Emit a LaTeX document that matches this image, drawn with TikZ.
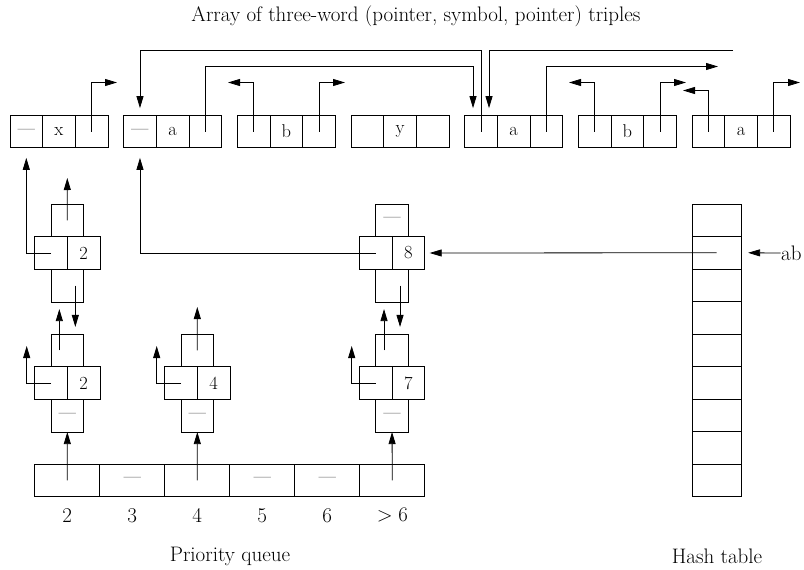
\documentclass[tikz,border=0pt]{standalone}
\usetikzlibrary{positioning,arrows.meta}
\begin{document}
\begin{tikzpicture}[x=1pt,y=-1pt,
    word/.style ={draw, thick, minimum width=32.66pt, minimum height=32.7pt,
      inner sep=0pt, outer sep=0pt, font=\fontsize{18.5}{21}\selectfont},
    bucket/.style ={draw, thick, minimum width=65pt, minimum height=32.7pt,
      inner sep=0pt, outer sep=0pt, font=\fontsize{18.5}{21}\selectfont},
    slot/.style ={draw, thick, minimum width=48.7pt, minimum height=32.5pt,
      inner sep=0pt, outer sep=0pt},
    caption/.style ={font=\fontsize{21}{24}\selectfont},
    pointer/.style ={thick, -{Triangle[length=12pt,width=7pt]}}]
   \useasboundingbox (0,0) rectangle (804,570);
   \node[caption] (title) at (416,16) {Array of three-word (pointer, symbol, pointer) triples};
   \node[word] (t0l) at (26.3,131.5) {\textemdash};
   \node[word, right=0pt of t0l] (t0m) {x};
   \node[word, right=0pt of t0m] (t0r) {};
   \node[word, right=15.7pt of t0r] (t1l) {\textemdash};
   \node[word, right=0pt of t1l] (t1m) {a};
   \node[word, right=0pt of t1m] (t1r) {};
   \node[word, right=15.7pt of t1r] (t2l) {};
   \node[word, right=0pt of t2l] (t2m) {b};
   \node[word, right=0pt of t2m] (t2r) {};
   \node[word, right=15.7pt of t2r] (t3l) {};
   \node[word, right=0pt of t3l] (t3m) {y};
   \node[word, right=0pt of t3m] (t3r) {};
   \node[word, right=15.7pt of t3r] (t4l) {};
   \node[word, right=0pt of t4l] (t4m) {a};
   \node[word, right=0pt of t4m] (t4r) {};
   \node[word, right=15.7pt of t4r] (t5l) {};
   \node[word, right=0pt of t5l] (t5m) {b};
   \node[word, right=0pt of t5m] (t5r) {};
   \node[word, right=15.7pt of t5r] (t6l) {};
   \node[word, right=0pt of t6l] (t6m) {a};
   \node[word, right=0pt of t6m] (t6r) {};

   \node[word] (Al) at (51,253) {};
   \node[word, right=0pt of Al] (Ar) {2};
   \node[word, above=0pt of Al.north east] (At) {};
   \node[word, below=0pt of Al.south east] (Ab) {};
   \node[word] (Bl) at (51,383) {};
   \node[word, right=0pt of Bl] (Br) {2};
   \node[word, above=0pt of Bl.north east] (Bt) {};
   \node[word, below=0pt of Bl.south east] (Bb) {\textemdash};
   \node[word] (Cl) at (181,383) {};
   \node[word, right=0pt of Cl] (Cr) {4};
   \node[word, above=0pt of Cl.north east] (Ct) {};
   \node[word, below=0pt of Cl.south east] (Cb) {\textemdash};
   \node[word] (Dl) at (375.7,253) {};
   \node[word, right=0pt of Dl] (Dr) {8};
   \node[word, above=0pt of Dl.north east] (Dt) {\textemdash};
   \node[word, below=0pt of Dl.south east] (Db) {};
   \node[word] (El) at (375.7,383) {};
   \node[word, right=0pt of El] (Er) {7};
   \node[word, above=0pt of El.north east] (Et) {};
   \node[word, below=0pt of El.south east] (Eb) {\textemdash};

   \node[bucket] (q2) at (67.3,480.3) {};
   \node[bucket, right=0pt of q2] (q3) {\textemdash};
   \node[bucket, right=0pt of q3] (q4) {};
   \node[bucket, right=0pt of q4] (q5) {\textemdash};
   \node[bucket, right=0pt of q5] (q6) {\textemdash};
   \node[bucket, right=0pt of q6] (qg) {};
   \node[caption] (l2) at ([yshift=-35pt]q2.center) {2};
   \node[caption] (l3) at ([yshift=-35pt]q3.center) {3};
   \node[caption] (l4) at ([yshift=-35pt]q4.center) {4};
   \node[caption] (l5) at ([yshift=-35pt]q5.center) {5};
   \node[caption] (l6) at ([yshift=-35pt]q6.center) {6};
   \node[caption] (lg) at ([yshift=-35pt]qg.center) {$>6$};
   \node[caption] (pq) at (230,556) {Priority queue};

   \node[slot] (h1) at (716.7,220.25) {};
   \node[slot, below=0pt of h1] (h2) {};
   \node[slot, below=0pt of h2] (h3) {};
   \node[slot, below=0pt of h3] (h4) {};
   \node[slot, below=0pt of h4] (h5) {};
   \node[slot, below=0pt of h5] (h6) {};
   \node[slot, below=0pt of h6] (h7) {};
   \node[slot, below=0pt of h7] (h8) {};
   \node[slot, below=0pt of h8] (h9) {};
   \node[caption] (ht) at (717,556) {Hash table};
   \node[caption, anchor=west, inner sep=0.5pt] (ab) at (780.5,253) {ab};

   \coordinate (t0rEnd) at (117,82.5);
   \coordinate (t2lEnd) at (228,82.5);
   \coordinate (t2rEnd) at (345,82.5);
   \coordinate (t4rEnd) at (718,66.5);
   \coordinate (t5lEnd) at (569,82.5);
   \coordinate (t5rEnd) at (686,82.5);
   \coordinate (t6lEnd) at (683,90.5);
   \coordinate (t6rEnd) at (800,82.5);
   \coordinate (inEnd) at (733,50.5);
   \coordinate (AtEnd) at (67.3,178);
   \coordinate (CtEnd) at (197.3,307);
   \coordinate (BlEnd) at (26.7,346);
   \coordinate (ClEnd) at (156.7,346);
   \coordinate (ElEnd) at (351.7,346);

   \draw[pointer] (t0r.center) |- (t0rEnd);
   \draw[pointer] (t2l.center) |- (t2lEnd);
   \draw[pointer] (t2r.center) |- (t2rEnd);
   \draw[pointer] (t4r.center) |- (t4rEnd);
   \draw[pointer] (t5l.center) |- (t5lEnd);
   \draw[pointer] (t5r.center) |- (t5rEnd);
   \draw[pointer] (t6l.center) |- (t6lEnd);
   \draw[pointer] (t6r.center) |- (t6rEnd);
   \draw[pointer, shorten >=7pt] (t4l.center) -- ++(0,-81) -| (t1l.north);
   \draw[pointer, shorten >=7pt] (t1r.center) -- ++(0,-65) -| ([xshift=-8pt]t4l.north);
   \draw[pointer, shorten >=7pt] (inEnd) -| ([xshift=8pt]t4l.north);

   \draw[pointer] (At.center) -- (AtEnd);
   \draw[pointer] (Ct.center) -- (CtEnd);
   \draw[pointer] (Bl.center) -| (BlEnd);
   \draw[pointer] (Cl.center) -| (ClEnd);
   \draw[pointer] (El.center) -| (ElEnd);
   \draw[pointer, shorten >=7pt] ([xshift=8pt]Ab.center) -- ([xshift=8pt]Bt.north);
   \draw[pointer, shorten >=7pt] ([xshift=-8pt]Bt.center) -- ([xshift=-8pt]Ab.south);
   \draw[pointer, shorten >=7pt] ([xshift=8pt]Db.center) -- ([xshift=8pt]Et.north);
   \draw[pointer, shorten >=7pt] ([xshift=-8pt]Et.center) -- ([xshift=-8pt]Db.south);
   \draw[pointer, shorten >=10pt] (Al.center) -| (t0l.south);
   \draw[pointer, shorten >=10pt] (Dl.center) -| (t1l.south);

   \draw[pointer] (q2.center) -- (Bb.south);
   \draw[pointer] (q4.center) -- (Cb.south);
   \draw[pointer] (qg.center) -- (Eb.south);
   \draw[pointer, shorten >=5pt] (h2.center) -- (Dr.east);
   \draw[pointer, shorten >=7pt] (ab.west) -- (h2.east);
 \end{tikzpicture}
\end{document}
